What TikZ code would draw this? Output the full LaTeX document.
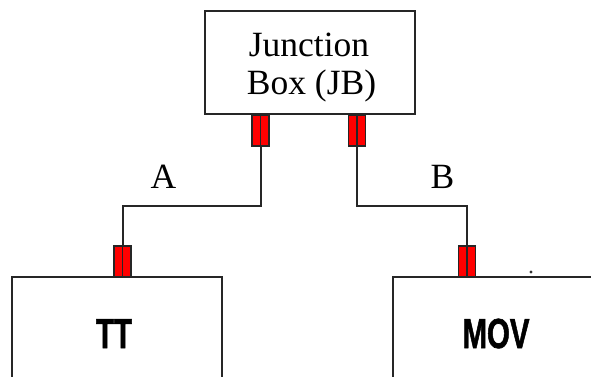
\documentclass[tikz,border=0pt]{standalone}
\usepackage{fontspec}
\setmainfont{Liberation Serif}
\newfontfamily\labsans{Liberation Sans}[BoldFeatures={FakeBold=1.6}]
\begin{document}
\begin{tikzpicture}[x=1pt,y=-1pt,
  boxstyle/.style={draw=black!85,line width=2pt,fill=white,rectangle,inner sep=0pt},
  plug/.style={draw=black!85,line width=1.5pt,fill=red,rectangle,inner sep=0pt,minimum width=17pt,minimum height=31pt},
  wire/.style={draw=black!85,line width=2pt},
  divider/.style={draw=black!85,line width=1.5pt},
  serlab/.style={font=\fontsize{35.5}{38}\selectfont,inner sep=0pt,anchor=base},
  boldlab/.style={font=\labsans\bfseries\fontsize{42}{46}\selectfont,inner sep=0pt,anchor=base,xscale=0.7}]
\useasboundingbox (0,0) rectangle (591,377);
\clip (0,0) rectangle (591,377);
\fill[white] (0,0) rectangle (591,377);
% boxes
\node[boxstyle,minimum width=210pt,minimum height=103pt] (jb) at (310,63) {};
\node[boxstyle,minimum width=210pt,minimum height=160pt] (tt) at (117,357) {};
\node[boxstyle,minimum width=240pt,minimum height=160pt] (mov) at (513,357) {};
% texts
\node[serlab] (jbt1) at (309,57) {Junction};
\node[serlab] (jbt2) at (311.5,95) {Box (JB)};
\node[boldlab] (ttt) at (114,348) {TT};
\node[boldlab] (movt) at (496,348) {MOV};
\node[serlab] (la) at (163.5,188) {A};
\node[serlab] (lb) at (442.5,188) {B};
% plugs
\node[plug] (jbL) at (260.5,130.5) {};
\node[plug] (jbR) at (357,130.5) {};
\node[plug] (ttc) at (122.5,261.5) {};
\node[plug] (movc) at (467,261.5) {};
% dividers
\draw[divider] (jbL.north) -- (jbL.south);
\draw[divider] (jbR.north) -- (jbR.south);
\draw[divider] (ttc.north) -- (ttc.south);
\draw[divider] (movc.north) -- (movc.south);
% wires
\coordinate (kA) at (122.5,206);
\coordinate (kB) at (467,206);
\draw[wire] (jbL.south) |- (kA) -- (ttc.north);
\draw[wire] (jbR.south) |- (kB) -- (movc.north);
% stray dot
\fill[black!80] (531,272) circle (1.6);
\end{tikzpicture}
\end{document}
